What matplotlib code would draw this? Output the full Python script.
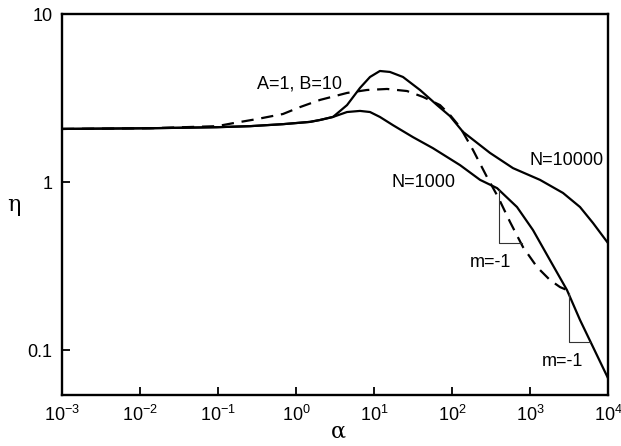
import numpy as np
import matplotlib.pyplot as plt

plt.rcParams['font.family'] = ['Liberation Sans', 'DejaVu Sans']
plt.rcParams['mathtext.fontset'] = 'custom'
plt.rcParams['mathtext.rm'] = 'Liberation Sans'
plt.rcParams['mathtext.it'] = 'Liberation Sans'

# curva N=1000
alpha_n1000 = [1e-3, 0.0134, 0.097, 0.257, 0.68, 1.51, 2.03, 2.98, 4.51, 6.61,
               8.89, 11.9, 17.5, 31.6, 57, 127, 229, 378, 681, 1091, 1803, 2977,
               4375, 6427, 1e4]
eta_n1000 = [2.07, 2.09, 2.12, 2.15, 2.21, 2.28, 2.34, 2.44, 2.61, 2.65,
             2.61, 2.44, 2.18, 1.85, 1.59, 1.26, 1.03, 0.92, 0.71, 0.518, 0.343, 0.2276,
             0.151, 0.1042, 0.068]

# curva N=10000 (igual à de N=1000 até alpha ~ 3)
alpha_n10000 = [1e-3, 0.0134, 0.097, 0.257, 0.68, 1.51, 2.03, 2.98, 4.51, 6.61,
                8.89, 11.9, 16.0, 23.5, 38.9, 64.3, 94, 138, 307, 605, 1343, 2648,
                4375, 6427, 1e4]
eta_n10000 = [2.07, 2.09, 2.12, 2.15, 2.21, 2.28, 2.34, 2.44, 2.87, 3.63,
              4.22, 4.58, 4.52, 4.22, 3.53, 2.87, 2.47, 1.99, 1.49, 1.21, 1.03, 0.861,
              0.71, 0.570, 0.433]

# curva tracejada A=1, B=10
alpha_ab = [1e-3, 0.0134, 0.097, 0.156, 0.316, 0.68, 1.12, 2.03, 4.51, 8.13, 14.7,
            26.5, 42.5, 70.2, 94, 127, 186, 281, 389, 555, 813, 1230, 1803, 2427, 2977]
eta_ab = [2.07, 2.09, 2.15, 2.24, 2.37, 2.54, 2.79, 3.08, 3.39, 3.53, 3.58,
          3.48, 3.21, 2.87, 2.51, 2.12, 1.55, 1.07, 0.815, 0.578, 0.41, 0.312, 0.261,
          0.237, 0.2276]

# triângulos de inclinação m=-1
tri1_alpha = [401, 401, 788]
tri1_eta = [0.90, 0.433, 0.433]
tri2_alpha = [3162, 3162, 5875]
tri2_eta = [0.22, 0.1117, 0.1117]

xticks = [1e-3, 1e-2, 1e-1, 1e0, 1e1, 1e2, 1e3, 1e4]
xtick_labels = [r'$10^{-3}$', r'$10^{-2}$', r'$10^{-1}$', r'$10^{0}$',
                r'$10^{1}$', r'$10^{2}$', r'$10^{3}$', r'$10^{4}$']
yticks = [0.1, 1, 10]
ytick_labels = ['0.1', '1', '10']

fig = plt.figure(figsize=(6.21, 4.46), dpi=100)
ax = fig.add_axes([0.0998, 0.1143, 0.8793, 0.8543])

ax.plot(alpha_n1000, eta_n1000, color='black', lw=1.6)
ax.plot(alpha_n10000, eta_n10000, color='black', lw=1.6)
ax.plot(alpha_ab, eta_ab, color='black', lw=1.6, dashes=(5.5, 3.5))
ax.plot(tri1_alpha, tri1_eta, color='#333333', lw=0.8)
ax.plot(tri2_alpha, tri2_eta, color='#333333', lw=0.8)

ax.set_xscale('log')
ax.set_yscale('log')
ax.set_xlim(1e-3, 1e4)
ax.set_ylim(0.054, 10)
ax.set_xticks(xticks)
ax.set_xticklabels(xtick_labels)
ax.set_yticks(yticks)
ax.set_yticklabels(ytick_labels)
ax.minorticks_off()
ax.tick_params(direction='in', length=6, width=1.3, labelsize=13, pad=7)

for s in ax.spines.values():
    s.set_linewidth(1.7)

ax.text(1.1, 3.83, 'A=1, B=10', fontsize=13, ha='center', va='center')
ax.text(43, 1.0, 'N=1000', fontsize=13, ha='center', va='center')
ax.text(2950, 1.35, 'N=10000', fontsize=13, ha='center', va='center')
ax.text(309, 0.33, 'm=-1', fontsize=13, ha='center', va='center')
ax.text(2570, 0.085, 'm=-1', fontsize=13, ha='center', va='center')

fig.text(14 / 621, 1 - 205 / 446, 'η', fontsize=16, family='DejaVu Serif',
         ha='center', va='center')
fig.text(338 / 621, 1 - 432 / 446, 'α', fontsize=16, family='DejaVu Serif',
         ha='center', va='center')

fig.savefig('out.png', dpi=100)
